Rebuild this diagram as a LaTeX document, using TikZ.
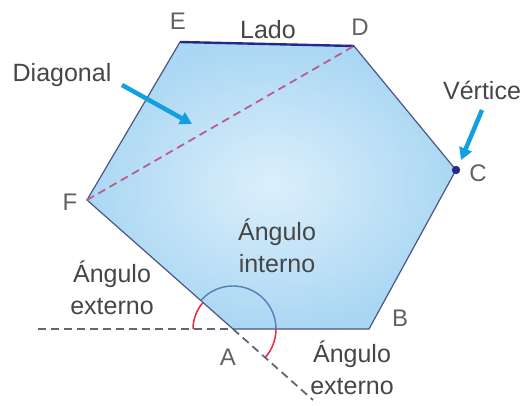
\documentclass[tikz,border=0pt]{standalone}
\usepackage{fontspec}
\setmainfont{Liberation Sans}
\usepackage{tikz}
\usetikzlibrary{arrows.meta}
\definecolor{hexfill}{RGB}{170,215,243}
\definecolor{hexcenter}{RGB}{220,239,251}
\definecolor{hexedge}{RGB}{75,85,135}
\definecolor{sideblue}{RGB}{40,40,140}
\definecolor{pointcyan}{RGB}{20,160,222}
\definecolor{diagpink}{RGB}{185,95,140}
\definecolor{txtgray}{RGB}{70,70,70}
\definecolor{anglered}{RGB}{232,40,60}
\definecolor{arcblue}{RGB}{85,125,185}
\definecolor{extgray}{RGB}{100,100,120}

\begin{document}
\begin{tikzpicture}[x=1pt, y=-1pt,
  lbl/.style={font=\fontsize{25}{32}\selectfont, text=txtgray,
              align=center, inner sep=0pt},
  vtx/.style={font=\fontsize{24}{28}\selectfont, text=txtgray!85,
              inner sep=0pt},
  ext/.style={dashed, dash pattern=on 8pt off 5pt, color=extgray,
              line width=1.8pt},
  pointer/.style={-{Triangle[width=13pt,length=12pt]}, line width=4.5pt,
                  color=pointcyan},
]
\useasboundingbox (0,0) rectangle (525,406);

% Vertices
\coordinate (A) at (233,329);
\coordinate (B) at (369,329);
\coordinate (C) at (456,170);
\coordinate (D) at (354,46);
\coordinate (E) at (180,42);
\coordinate (F) at (87,200);

% Hexagon
\shade[inner color=hexcenter, outer color=hexfill]
  (A) -- (B) -- (C) -- (D) -- (E) -- (F) -- cycle;
\draw[hexedge, line width=1.2pt]
  (E) -- (F) -- (A) -- (B) -- (C) -- (D);
\draw[sideblue, line width=2.4pt] (E) -- (D);

% Diagonal
\draw[diagpink, dashed, dash pattern=on 8pt off 5pt, line width=1.8pt]
  (F) -- (D);

% Extensions of the sides at A
\coordinate (extL) at (38,329);
\coordinate (extR) at (313,400);
\draw[ext] (extL) -- (A);
\draw[ext] (A) -- (extR);

% Angles at A
\draw[arcblue, line width=1.4pt]
  (A) ++(43,0) arc[start angle=0, end angle=-138.5, radius=43];
\draw[anglered, line width=1.5pt]
  (A) ++(43,0) arc[start angle=0, end angle=41.5, radius=43];
\draw[anglered, line width=1.5pt]
  (A) ++(-40,0) arc[start angle=180, end angle=221.5, radius=40];

% Vertex C
\fill[sideblue] (C) circle (4.2);

% Labels
\node[vtx] (lA) at (228,357) {A};
\node[vtx] (lB) at (400,318) {B};
\node[vtx] (lC) at (478,173) {C};
\node[vtx] (lD) at (360,27) {D};
\node[vtx] (lE) at (178,21) {E};
\node[vtx] (lF) at (70,202) {F};
\node[lbl] (lado) at (268,30) {Lado};
\node[lbl] (diag) at (62,75) {Diagonal};
\node[lbl] (vert) at (482,90) {Vértice};
\node[lbl] (intang) at (277,246) {Ángulo\\interno};
\node[lbl] (extang1) at (112,288) {Ángulo\\externo};
\node[lbl] (extang2) at (352,368) {Ángulo\\externo};

% Pointers
\coordinate (p1s) at (122,85);
\coordinate (p1e) at (192,124);
\coordinate (p2s) at (482,110);
\coordinate (p2e) at (461,160);
\draw[pointer] (p1s) -- (p1e);
\draw[pointer] (p2s) -- (p2e);
\end{tikzpicture}
\end{document}
